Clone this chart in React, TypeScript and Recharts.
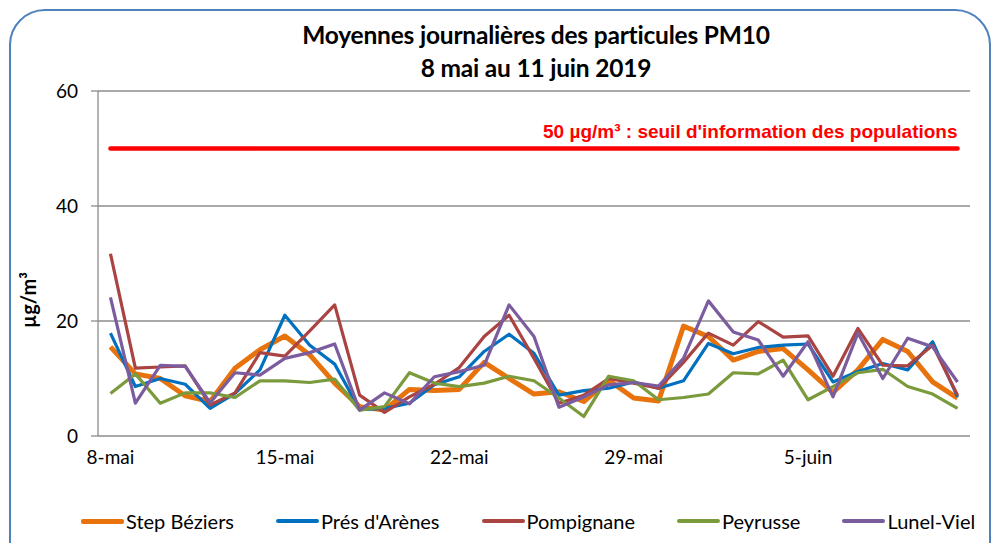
import React from 'react';
import { LineChart, Line, XAxis, YAxis, CartesianGrid, ReferenceLine } from 'recharts';

const days = [
  '8-mai', '9-mai', '10-mai', '11-mai', '12-mai', '13-mai', '14-mai',
  '15-mai', '16-mai', '17-mai', '18-mai', '19-mai', '20-mai', '21-mai',
  '22-mai', '23-mai', '24-mai', '25-mai', '26-mai', '27-mai', '28-mai',
  '29-mai', '30-mai', '31-mai', '1-juin', '2-juin', '3-juin', '4-juin',
  '5-juin', '6-juin', '7-juin', '8-juin', '9-juin', '10-juin', '11-juin',
];

const labelTicks = [0, 7, 14, 21, 28];
const boundaryTicks = [-0.5, 6.5, 13.5, 20.5, 27.5, 34.5];
const yTicks = [0, 20, 40, 60];

const stepBeziers = [15.5, 10.8, 10.0, 7.0, 6.0, 11.8, 15.0, 17.4, 14.1, 9.2, 5.1, 4.5, 8.1, 7.9, 8.1, 12.8, 10.0, 7.3, 7.7, 6.0, 9.7, 6.6, 6.1, 19.1, 17.3, 13.2, 14.7, 15.2, 11.5, 7.6, 11.5, 16.8, 14.7, 9.4, 6.6];
const presArenes = [17.9, 8.6, 10.0, 9.0, 4.8, 7.4, 11.5, 21.0, 15.8, 12.5, 4.6, 4.8, 5.7, 8.9, 10.3, 14.7, 17.7, 14.4, 7.1, 7.9, 8.3, 9.4, 8.3, 9.6, 16.1, 14.3, 15.4, 15.8, 16.0, 9.4, 11.2, 12.6, 11.5, 16.4, 6.8];
const pompignane = [31.7, 11.8, 12.0, 12.2, 5.4, 7.5, 14.5, 13.9, 18.3, 22.8, 7.1, 4.1, 6.8, 9.0, 11.9, 17.3, 21.0, 13.5, 5.7, 7.1, 10.0, 9.2, 8.3, 12.8, 17.9, 15.8, 19.9, 17.2, 17.4, 10.4, 18.7, 12.3, 12.2, 15.8, 7.1];
const peyrusse = [7.4, 10.8, 5.7, 7.5, 7.5, 6.7, 9.6, 9.6, 9.3, 9.9, 4.5, 5.1, 11.0, 9.2, 8.6, 9.2, 10.4, 9.6, 6.6, 3.4, 10.4, 9.6, 6.3, 6.7, 7.3, 11.0, 10.8, 13.2, 6.3, 8.6, 11.0, 11.6, 8.6, 7.3, 4.8];
const lunelViel = [24.1, 5.7, 12.3, 12.1, 5.8, 11.0, 10.6, 13.5, 14.5, 16.0, 4.5, 7.5, 5.6, 10.3, 11.2, 12.3, 22.8, 17.3, 5.0, 6.8, 8.9, 9.3, 8.7, 13.5, 23.5, 18.1, 16.7, 10.4, 16.4, 6.8, 17.9, 10.0, 17.0, 15.5, 9.4];

const threshold = 50;
const thresholdLabel = "50 µg/m³ : seuil d'information des populations";

const seriesNames = ['Step Béziers', "Prés d'Arènes", 'Pompignane', 'Peyrusse', 'Lunel-Viel'];
const seriesValues = [stepBeziers, presArenes, pompignane, peyrusse, lunelViel];
const seriesColors = ['#E8720C', '#0070C0', '#A94442', '#7A9A3C', '#7B5C9E'];
const seriesWidths = [5, 3.2, 3.2, 3.2, 3.2];

const data = days.map((d, i) => {
  const row: Record<string, number | string> = { idx: i, day: d };
  seriesValues.forEach((vals, s) => {
    row['s' + s] = vals[i];
  });
  return row;
});

const FONT = 'Lato, "Open Sans", sans-serif';
const GRID = '#8C8C8C';

const ThresholdLabel = (props: any) => {
  const vb = props.viewBox || {};
  return (
    <text
      x={vb.x + vb.width}
      y={vb.y - 11}
      textAnchor="end"
      fill="#FF0000"
      fontFamily='"Liberation Sans", Arial, sans-serif'
      fontWeight="bold"
      fontSize={19}
    >
      {thresholdLabel}
    </text>
  );
};

export default function App() {
  return (
    <div style={{ position: 'absolute', left: 0, top: 0, width: 1000, height: 543, background: '#fff', overflow: 'hidden', fontFamily: FONT }}>
      <div
        style={{
          position: 'absolute', left: 9, top: 9, width: 982, height: 620,
          border: '2.5px solid #4F81BD', borderRadius: 36, boxSizing: 'border-box',
        }}
      />
      <div style={{ position: 'absolute', left: 236, top: 18, width: 600, textAlign: 'center', fontWeight: 'bold', fontSize: 24.5, lineHeight: '33px', color: '#000', letterSpacing: -0.2 }}>
        <div>Moyennes journalières des particules PM10</div>
        <div>8 mai au 11 juin 2019</div>
      </div>
      <div
        style={{
          position: 'absolute', left: 28, top: 300, transform: 'translate(-50%, -50%) rotate(-90deg)',
          fontWeight: 'bold', fontSize: 20, whiteSpace: 'nowrap', color: '#000',
        }}
      >
        µg/m³
      </div>
      <LineChart
        width={1000}
        height={543}
        data={data}
        margin={{ top: 91, right: 30, left: 0, bottom: 67 }}
        style={{ position: 'absolute', left: 0, top: 0 }}
      >
        <CartesianGrid horizontal vertical={false} stroke={GRID} strokeWidth={1.3} />
        <XAxis
          xAxisId="t"
          dataKey="idx"
          type="number"
          domain={[-0.5, 34.5]}
          ticks={boundaryTicks}
          tickFormatter={() => ''}
          height={0}
          tickSize={6}
          stroke={GRID}
          strokeWidth={1.3}
          interval={0}
          allowDataOverflow
        />
        <XAxis
          xAxisId="l"
          dataKey="idx"
          type="number"
          domain={[-0.5, 34.5]}
          ticks={labelTicks}
          tickFormatter={(v: number) => days[v]}
          height={40}
          axisLine={false}
          tickLine={false}
          tickMargin={9}
          interval={0}
          tick={{ fill: '#000', fontSize: 19, fontFamily: FONT }}
          allowDataOverflow
        />
        <YAxis
          width={98}
          domain={[0, 60]}
          ticks={yTicks}
          tickSize={7}
          tickMargin={13}
          stroke={GRID}
          strokeWidth={1.3}
          tick={{ fill: '#000', fontSize: 19, fontFamily: FONT }}
        />
        <ReferenceLine
          xAxisId="l"
          segment={[{ x: 0, y: threshold }, { x: 34, y: threshold }]}
          stroke="#FF0000"
          strokeWidth={4.5}
          strokeLinecap="round"
          label={<ThresholdLabel />}
          ifOverflow="visible"
        />
        {seriesNames.map((name, s) => (
          <Line
            key={name}
            xAxisId="l"
            type="linear"
            dataKey={'s' + s}
            name={name}
            stroke={seriesColors[s]}
            strokeWidth={seriesWidths[s]}
            dot={false}
            activeDot={false}
            isAnimationActive={false}
            strokeLinejoin="round"
          />
        ))}
      </LineChart>
      <div style={{ position: 'absolute', left: 81, top: 509, display: 'flex', gap: 42, fontSize: 20, color: '#000', lineHeight: '24px' }}>
        {seriesNames.map((name, s) => (
          <div key={name} style={{ display: 'flex', alignItems: 'center' }}>
            <span style={{ display: 'inline-block', width: 43, height: s === 0 ? 5 : 4, background: seriesColors[s], marginRight: 2, borderRadius: 2 }} />
            <span>{name}</span>
          </div>
        ))}
      </div>
    </div>
  );
}
